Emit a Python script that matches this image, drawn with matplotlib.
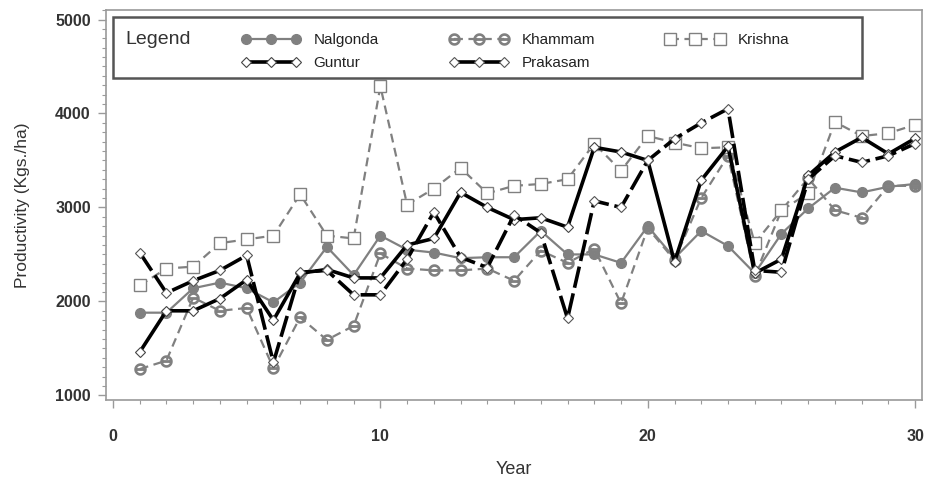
import matplotlib.pyplot as plt
import matplotlib as mpl
from matplotlib.ticker import MultipleLocator
from matplotlib.patches import Rectangle

mpl.rcParams["font.family"] = ["Liberation Sans", "DejaVu Sans"]

years = list(range(1, 31))

nalgonda = [1880, 1880, 2140, 2200, 2140, 1990, 2200, 2580, 2280, 2700,
            2550, 2520, 2460, 2470, 2470, 2750, 2500, 2500, 2410, 2800,
            2460, 2750, 2590, 2300, 2720, 2990, 3210, 3160, 3220, 3250]
khammam = [1280, 1370, 2040, 1900, 1930, 1290, 1830, 1590, 1740, 2510,
           2350, 2330, 2330, 2350, 2220, 2540, 2410, 2560, 1980, 2780,
           2440, 3100, 3550, 2270, 2970, 3310, 2970, 2890, 3230, 3230]
krishna = [2170, 2350, 2370, 2620, 2660, 2700, 3140, 2700, 2670, 4290,
           3030, 3200, 3420, 3150, 3230, 3250, 3300, 3680, 3390, 3760,
           3690, 3630, 3640, 2620, 2970, 3150, 3910, 3760, 3790, 3880]
guntur = [1460, 1900, 1900, 2030, 2230, 1800, 2300, 2340, 2250, 2250,
          2600, 2670, 3160, 3000, 2870, 2890, 2790, 3640, 3590, 3500,
          2420, 3290, 3650, 2300, 2450, 3340, 3590, 3745, 3570, 3735]
prakasam = [2520, 2090, 2220, 2330, 2490, 1350, 2310, 2330, 2070, 2070,
            2450, 2950, 2470, 2360, 2920, 2730, 1820, 3070, 3000, 3500,
            3730, 3900, 4050, 2330, 2310, 3300, 3550, 3480, 3550, 3680]

GRAY = "#808080"
W, H = 925, 482

fig = plt.figure(figsize=(9.25, 4.82), dpi=100)
ax = fig.add_axes([0.1146, 0.170, 0.882, 0.809])

# gray series
l_nal, = ax.plot(years, nalgonda, color=GRAY, lw=1.6, marker="o", ms=7,
                 mfc=GRAY, mec=GRAY, label="Nalgonda")
l_kha, = ax.plot(years, khammam, color=GRAY, lw=1.6, ls=(0, (4, 2.5)),
                 marker="$\\ominus$", ms=8, mfc="white", mec=GRAY,
                 label="Khammam")
l_kri, = ax.plot(years, krishna, color=GRAY, lw=1.6, ls=(0, (4, 2.5)),
                 marker="s", ms=8.5, mfc="white", mec=GRAY, mew=1.0,
                 label="Krishna")
# black series
l_gun, = ax.plot(years, guntur, color="black", lw=2.6, marker="D", ms=5,
                 mfc="white", mec="#444444", mew=0.8, label="Guntur")
l_pra, = ax.plot(years, prakasam, color="black", lw=2.6, ls=(0, (6, 1.6)),
                 marker="D", ms=5, mfc="white", mec="#555555", mew=0.8,
                 label="Prakasam")

ax.set_xlim(-0.26, 30.25)
ax.set_ylim(950, 5100)
ax.xaxis.set_major_locator(MultipleLocator(10))
ax.xaxis.set_minor_locator(MultipleLocator(1))
ax.yaxis.set_minor_locator(MultipleLocator(100))
ax.set_yticks([1000, 2000, 3000, 4000, 5000])
ax.set_yticklabels(["1000", "2000", "3000", "4000", "5000"])

for sp in ax.spines.values():
    sp.set_color("#9a9a9a")
    sp.set_linewidth(1.2)
ax.tick_params(axis="both", which="major", direction="out", length=6,
               width=1.0, colors="#9a9a9a", labelcolor="#333333",
               labelsize=11.5, pad=5)
ax.tick_params(axis="both", which="minor", direction="out", length=3,
               width=0.8, colors="#9a9a9a")
for lab in ax.get_xticklabels() + ax.get_yticklabels():
    lab.set_fontweight("bold")
ax.tick_params(axis="x", pad=15)

ax.set_xlabel("Year", fontsize=13, color="#333333", labelpad=12)
ax.set_ylabel("Productivity (Kgs./ha)", fontsize=12.5, color="#333333",
              labelpad=18)

# legend box drawn separately, entries placed inside it
box = Rectangle((113 / W, 1 - 78 / H), (862 - 113) / W, (78 - 17) / H,
                transform=fig.transFigure, fill=True, facecolor="white",
                edgecolor="#555555", lw=1.8, zorder=5)
fig.patches.append(box)
fig.text(125 / W, 1 - 40 / H, "Legend", fontsize=14, color="#333333",
         va="center", ha="left", zorder=6)

handles = [l_nal, l_gun, l_kha, l_pra, l_kri]
leg = fig.legend(handles=handles, ncol=3, loc="upper left",
                 bbox_to_anchor=(241 / W, 1 - 33 / H),
                 numpoints=3, handlelength=3.9, handletextpad=0.85,
                 columnspacing=4.6, labelspacing=0.6, fontsize=11,
                 frameon=False, borderpad=0.0, borderaxespad=0.0)
leg.set_zorder(7)
for t in leg.get_texts():
    t.set_color("#222222")

fig.savefig("out.png", dpi=100)
